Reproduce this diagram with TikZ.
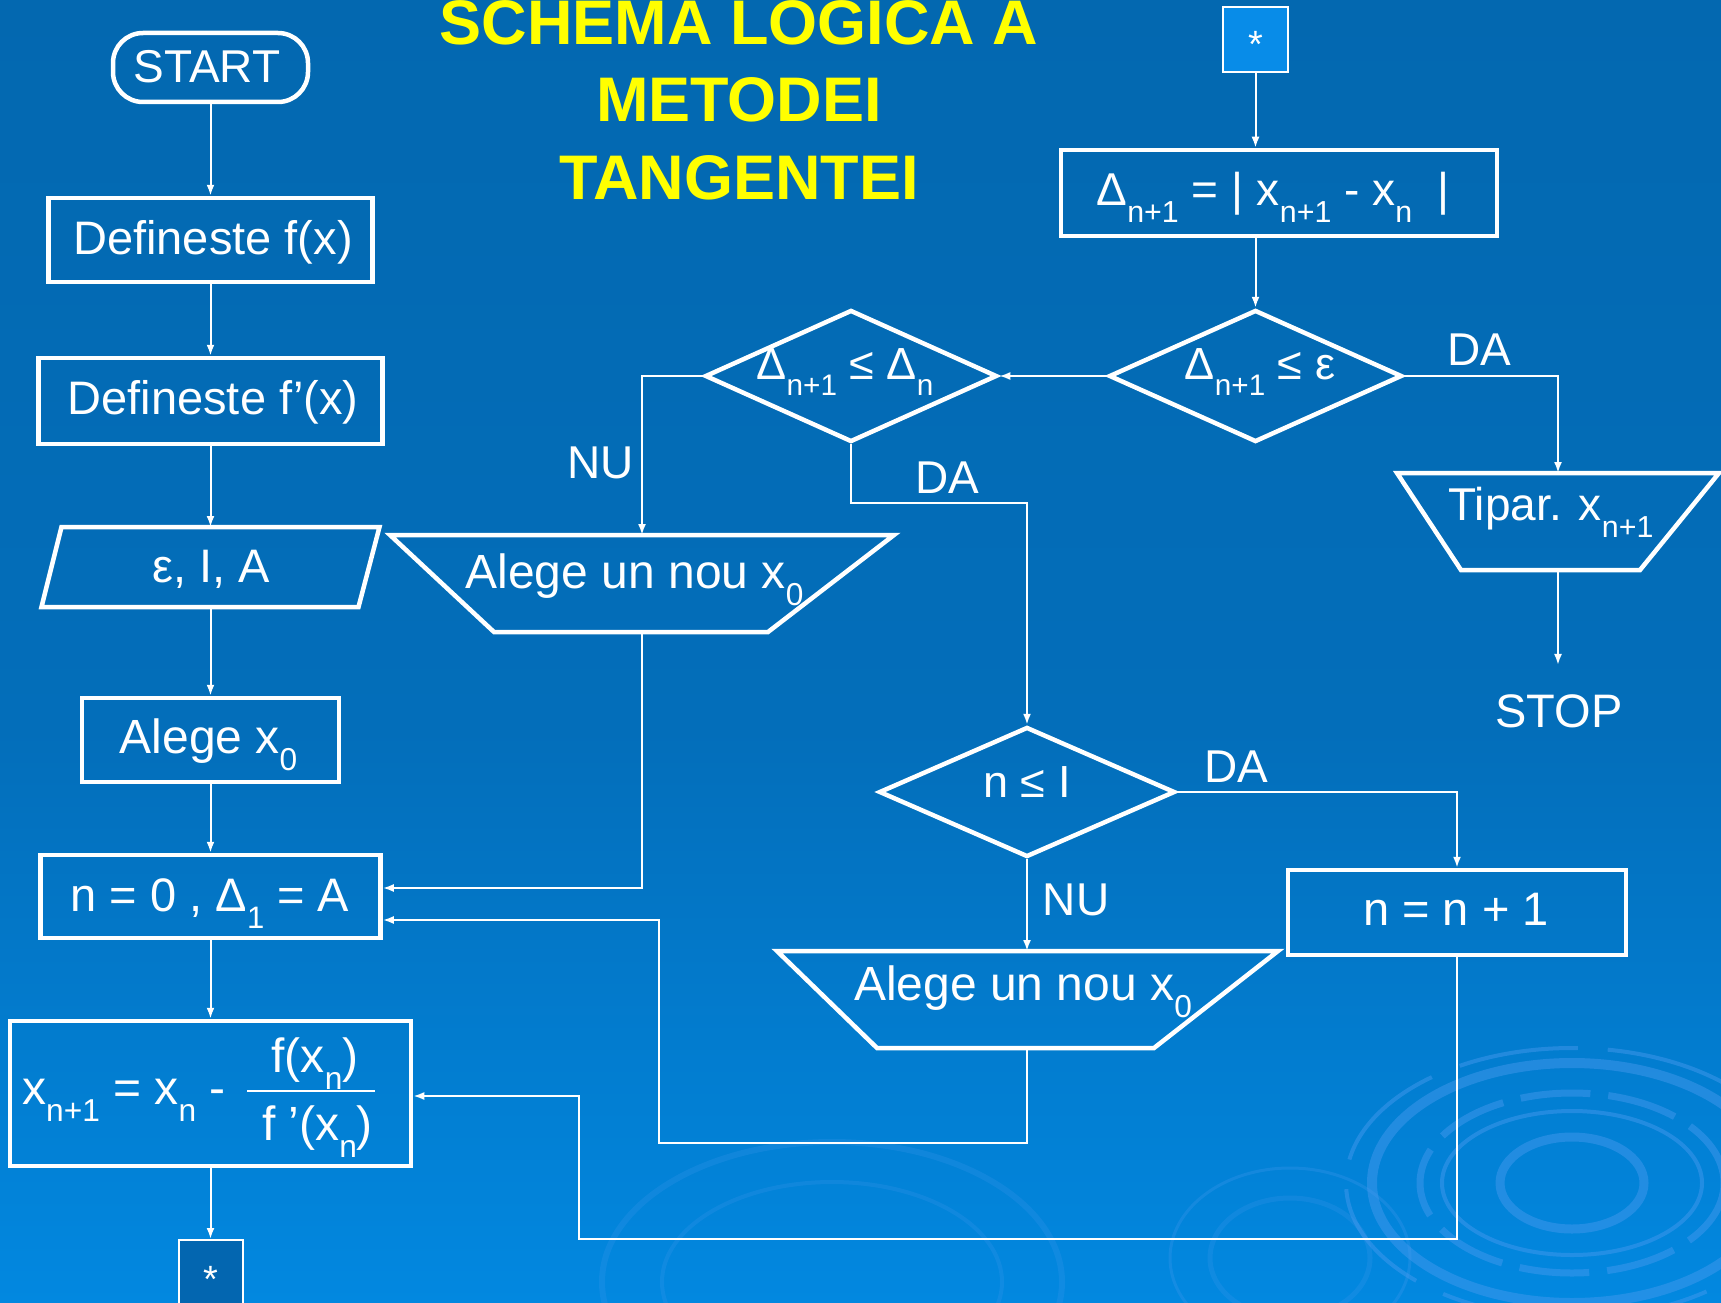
\documentclass[tikz,border=0pt]{standalone}
\usepackage{fontspec}
\setmainfont{Liberation Sans}
\usepackage{graphicx}
\usetikzlibrary{shapes.geometric,arrows.meta}
\definecolor{bgtop}{RGB}{3,104,176}
\definecolor{bgmid}{RGB}{3,110,186}
\definecolor{bgbot}{RGB}{2,136,224}
\definecolor{ringc}{RGB}{75,155,240}
\definecolor{starlight}{RGB}{8,140,232}
\definecolor{stardark}{RGB}{3,102,176}
\definecolor{ttl}{RGB}{255,255,0}
\pgfdeclareverticalshading{bgshade}{100bp}{color(0bp)=(bgbot); color(25bp)=(bgbot); color(47bp)=(bgmid); color(75bp)=(bgtop); color(100bp)=(bgtop)}
\newcommand\dn[1]{\raisebox{-0.37em}{\scalebox{0.66}{#1}}}
\newcommand\fs[1]{\fontsize{#1pt}{#1pt}\selectfont}
\begin{document}
\begin{tikzpicture}[x=1pt,y=-1pt,
  box/.style={draw=white,line width=4.5pt,inner sep=0pt},
  bbox/.style={inner sep=0pt,outer sep=0pt},
  shp/.style={draw=white,line width=4.5pt,line join=miter},
  arr/.style={draw=white,line width=2pt,-{Latex[length=11pt,width=8pt]}},
  ln/.style={draw=white,line width=2pt},
  txt/.style={text=white,inner sep=0pt,anchor=base,font=\fs{46}},
  ringl/.style={draw=ringc,opacity=0.45}]
\useasboundingbox (0,0) rectangle (1721,1303);
\shade[shading=bgshade] (0,0) rectangle (1721,1303);
% background rings
\draw[ringl,line width=9pt] (1572,1183) ellipse [x radius=72, y radius=46];
\draw[ringl,line width=4pt] (1572,1183) ellipse [x radius=130, y radius=72];
\draw[ringl,line width=7pt,dash pattern=on 70pt off 18pt] (1572,1183) ellipse [x radius=152, y radius=90];
\draw[ringl,line width=10pt] (1572,1183) ellipse [x radius=200, y radius=120];
\draw[ringl,line width=4pt,dash pattern=on 120pt off 30pt] (1572,1183) ellipse [x radius=226, y radius=135];
\draw[ringl,line width=3pt,opacity=0.25] (1290,1258) ellipse [x radius=120, y radius=90];
\draw[ringl,line width=5pt,opacity=0.2] (1290,1258) ellipse [x radius=80, y radius=60];
\draw[ringl,line width=6pt,opacity=0.2] (832,1282) ellipse [x radius=230, y radius=140];
\draw[ringl,line width=4pt,opacity=0.2] (832,1282) ellipse [x radius=170, y radius=100];
% title
\node[anchor=base,text=ttl,inner sep=0pt,font=\fs{63}\bfseries] (ti1) at (739,45) {SCHEMA LOGICA A};
\node[anchor=base,text=ttl,inner sep=0pt,font=\fs{63}\bfseries] (ti2) at (739,122) {METODEI};
\node[anchor=base,text=ttl,inner sep=0pt,font=\fs{63}\bfseries] (ti3) at (739,199) {TANGENTEI};
% left column
\node[box,rounded corners=30pt,minimum width=195pt,minimum height=69pt] (start) at (210.5,67.5) {};
\node[txt] (startt) at (207,83) {START};
\node[box,minimum width=324pt,minimum height=84pt] (deff) at (210.5,240) {};
\node[txt,font=\fs{47}] (defft) at (213,254) {Defineste f(x)};
\node[box,minimum width=344pt,minimum height=86pt] (deffp) at (210.5,401) {};
\node[txt,font=\fs{47}] (deffpt) at (213,414) {Defineste f’(x)};
\node[bbox,minimum width=338pt,minimum height=80pt] (inp) at (210.5,567) {};
\draw[shp] ([xshift=20pt]inp.north west) -- (inp.north east) -- ([xshift=-21pt]inp.south east) -- (inp.south west) -- cycle;
\node[txt,font=\fs{47}] (inpt) at (211,582) {ε, I, A};
\node[box,minimum width=257pt,minimum height=84pt] (alx0) at (210.5,740) {};
\node[txt,font=\fs{48}] (alx0t) at (208.5,753) {Alege x\dn{0}};
\node[box,minimum width=340pt,minimum height=83pt] (init) at (210.5,896.5) {};
\node[txt,font=\fs{47}] (initt) at (210,911) {n = 0 , Δ\dn{1} = A};
\node[box,minimum width=401pt,minimum height=145pt] (form) at (210.5,1093.5) {};
\node[txt,font=\fs{48},anchor=base west] (forml) at (22,1104) {x\dn{n+1} = x\dn{n} -};
\node[txt,font=\fs{48}] (formn) at (315,1072) {f(x\dn{n})};
\node[txt,font=\fs{48}] (formd) at (317.5,1140) {f ’(x\dn{n})};
\draw[ln] (247,1091) -- (375,1091);
\node[draw=white,line width=2pt,fill=stardark,inner sep=0pt,minimum width=64pt,minimum height=70pt] (star1) at (211,1275) {};
\node[txt,font=\fs{38}] (star1t) at (211,1292) {*};
% right part
\node[draw=white,line width=2pt,fill=starlight,inner sep=0pt,minimum width=65pt,minimum height=65pt] (star2) at (1255.5,39.5) {};
\node[txt,font=\fs{38}] (star2t) at (1255.5,58) {*};
\node[box,minimum width=436pt,minimum height=86pt] (delta) at (1279,193) {};
\node[txt,font=\fs{46}] (deltat) at (1273,205) {Δ\dn{n+1} = |\hspace{0.3em}x\dn{n+1} - x\dn{n}\hspace{0.55em}|};
\node[box,diamond,minimum width=293pt,minimum height=132pt] (dec1) at (1255.5,376) {};
\node[txt,font=\fs{45}] (dec1t) at (1260,379) {Δ\dn{n+1} ≤ ε};
\node[box,diamond,minimum width=292pt,minimum height=132pt] (dec2) at (851,376) {};
\node[txt,font=\fs{45}] (dec2t) at (845,379) {Δ\dn{n+1} ≤ Δ\dn{n}};
\node[bbox,minimum width=322pt,minimum height=97pt] (tipar) at (1558,521.5) {};
\draw[shp] (tipar.north west) -- (tipar.north east) -- ([xshift=-79pt]tipar.south east) -- ([xshift=64pt]tipar.south west) -- cycle;
\node[txt,font=\fs{46}] (tipart) at (1551,520) {Tipar. x\dn{n+1}};
\node[txt,font=\fs{47}] (stop) at (1559,727) {STOP};
\node[bbox,minimum width=504pt,minimum height=97pt] (a1) at (642,583.5) {};
\draw[shp] (a1.north west) -- (a1.north east) -- ([xshift=-126pt]a1.south east) -- ([xshift=104pt]a1.south west) -- cycle;
\node[txt,font=\fs{48}] (a1t) at (634.5,588) {Alege un nou x\dn{0}};
\node[box,diamond,minimum width=296pt,minimum height=130pt] (dec3) at (1027,792) {};
\node[txt,font=\fs{45}] (dec3t) at (1027,797) {n ≤ I};
\node[box,minimum width=338pt,minimum height=85pt] (nn) at (1457,912.5) {};
\node[txt,font=\fs{47}] (nnt) at (1456,925) {n = n + 1};
\node[bbox,minimum width=501pt,minimum height=97pt] (a2) at (1027.5,999.5) {};
\draw[shp] (a2.north west) -- (a2.north east) -- ([xshift=-124pt]a2.south east) -- ([xshift=100pt]a2.south west) -- cycle;
\node[txt,font=\fs{48}] (a2t) at (1023,1000) {Alege un nou x\dn{0}};
% labels
\node[txt] (nu1) at (601,478) {NU};
\node[txt] (da1) at (947,493) {DA};
\node[txt] (da2) at (1479,365) {DA};
\node[txt] (da3) at (1236,782) {DA};
\node[txt] (nu2) at (1076,915) {NU};
% connectors
\coordinate (j1) at (1027,503);
\coordinate (j2) at (659,1143);
\coordinate (j3) at (579,1239);
\draw[arr] (start) -- (deff);
\draw[arr] (deff) -- (deffp);
\draw[arr] (deffp) -- (inp);
\draw[arr] (inp) -- (alx0);
\draw[arr] (alx0) -- (init);
\draw[arr] (init) -- (form);
\draw[arr] (form.south) -- (form.south |- star1.north);
\draw[arr] (star2.south) -- (star2.south |- delta.north);
\draw[arr] (delta.south -| dec1.north) -- (dec1.north);
\draw[arr] (dec1.west) -- (dec2.east);
\draw[arr] (dec1.east) -| (tipar.north);
\draw[arr] (tipar.south) -- ([yshift=29pt]stop.north -| tipar.south);
\draw[arr] (dec2.west) -| (a1.north);
\draw[arr] (a1.south) |- ([yshift=8.5pt]init.east);
\draw[arr] (dec2.south) |- (j1) -- (dec3.north);
\draw[arr] (dec3.east) -| (nn.north);
\draw[arr] (dec3.south) -- (dec3.south |- a2.north);
\draw[arr] (a2.south -| dec3.south) |- (j2) |- ([yshift=-23.5pt]init.east);
\draw[arr] (nn.south) |- (j3) |- ([yshift=-2.5pt]form.east);
\end{tikzpicture}
\end{document}
